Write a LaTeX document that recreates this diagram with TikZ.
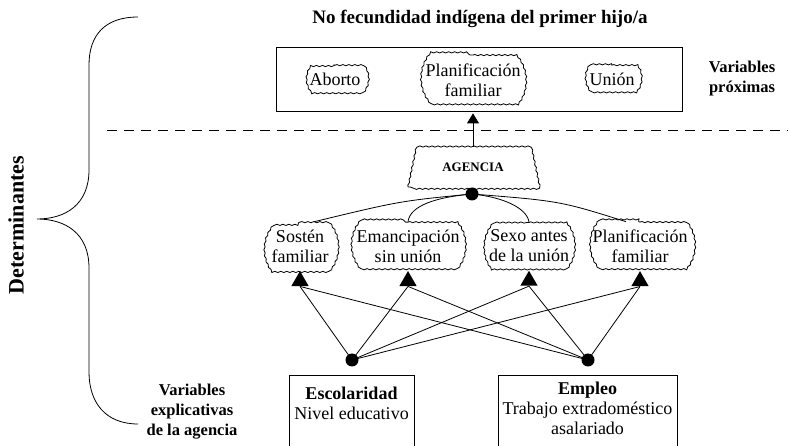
\documentclass[tikz,border=0pt]{standalone}
\usepackage{fontspec}
\setmainfont{Liberation Serif}
\usetikzlibrary{shapes.geometric,shapes.misc,decorations.pathmorphing,arrows.meta}
\newcommand\fs{\fontsize{18}{20}\selectfont}
\newcommand\fb{\fontsize{16.5}{20}\selectfont\bfseries}
\begin{document}
\begin{tikzpicture}[x=1pt,y=-1pt,line width=0.8pt,
  cloudbox/.style={draw, rounded rectangle, rounded rectangle arc length=80, decorate, decoration={snake, amplitude=0.6pt, segment length=6pt}, align=center, font=\fs, inner xsep=1.5pt, inner ysep=7.5pt},
  blackdot/.style={circle, fill, inner sep=0pt, minimum size=13pt},
  tri/.style={regular polygon, regular polygon sides=3, fill, inner sep=0pt, minimum size=20pt, anchor=corner 1},
  plainbox/.style={draw, inner sep=0pt},
  lbl/.style={align=center, font=\fb}]
\useasboundingbox (0,0) rectangle (788,446);
% top
\node[font=\fontsize{19}{22}\selectfont\bfseries] (title) at (480,19) {No fecundidad indígena del primer hijo/a};
\node[plainbox, minimum width=406pt, minimum height=64pt] (tb) at (479,79) {};
\node[cloudbox, inner xsep=5pt] (ab) at (335,79) {Aborto};
\node[cloudbox, inner ysep=8.5pt] (pf) at (473,80) {Planificación\\familiar};
\node[cloudbox, inner xsep=5pt] (un) at (612,79) {Unión};
\node[lbl] (vp) at (742,79) {Variables\\próximas};
\draw[dash pattern=on 10pt off 7pt] (107,130) -- (788,130);
% agencia
\node[trapezium, trapezium left angle=72, trapezium right angle=72, trapezium stretches=true, minimum width=130pt, minimum height=40pt, draw, decorate, decoration={snake, amplitude=0.6pt, segment length=6pt}, font=\fontsize{13}{15}\selectfont\bfseries] (ag) at (473,167) {AGENCIA};
\draw[-{Triangle[width=12pt,length=10pt]}, shorten >=2pt] (ag.north) -- (ag.north |- tb.south);
\node[blackdot] (ad) at (472,194) {};
% middle clouds
\node[cloudbox] (c1) at (300,246) {Sostén\\familiar};
\node[cloudbox] (c2) at (408,246) {Emancipación\\sin unión};
\node[cloudbox] (c3) at (529,246) {Sexo antes\\de la unión};
\node[cloudbox] (c4) at (640,246) {Planificación\\familiar};
\draw (ad.center) .. controls (400,201) .. (c1.60);
\draw (ad.center) .. controls (438,197) and (410,205) .. (c2.north);
\draw (ad.center) .. controls (503,197) and (527,208) .. (c3.north);
\draw (ad.center) .. controls (560,201) .. (c4.120);
\node[tri] (t1) at (c1.south) {};
\node[tri] (t2) at (c2.south) {};
\node[tri] (t3) at (c3.south) {};
\node[tri] (t4) at (c4.south) {};
% bottom
\node[blackdot] (d1) at (352,360) {};
\node[blackdot] (d2) at (588,360) {};
\foreach \t in {t1,t2,t3,t4} {
  \draw (d1.center) -- (\t.side 2);
  \draw (d2.center) -- (\t.side 2);
}
\node[plainbox, minimum width=125pt, minimum height=72pt, anchor=north] (esc) at (351.5,375) {};
\node[align=center, font=\fs] (esct) at (351.5,403) {\textbf{Escolaridad}\\Nivel educativo};
\node[plainbox, minimum width=179pt, minimum height=72pt, anchor=north] (emp) at (587.5,375) {};
\node[align=center, font=\fs] (empt) at (587.5,408) {\textbf{Empleo}\\Trabajo extradoméstico\\asalariado};
\node[lbl] (vea) at (192,412) {Variables\\explicativas\\de la agencia};
% brace
\node[rotate=90, font=\fontsize{22}{24}\selectfont\bfseries] (det) at (16,225) {Determinantes};
\draw (138,17) .. controls (105,17) and (89,35) .. (89,65) -- (89,170) .. controls (89,205) and (65,219) .. (37,219) .. controls (65,219) and (89,233) .. (89,268) -- (89,372) .. controls (89,402) and (105,424) .. (138,424);
\end{tikzpicture}
\end{document}
